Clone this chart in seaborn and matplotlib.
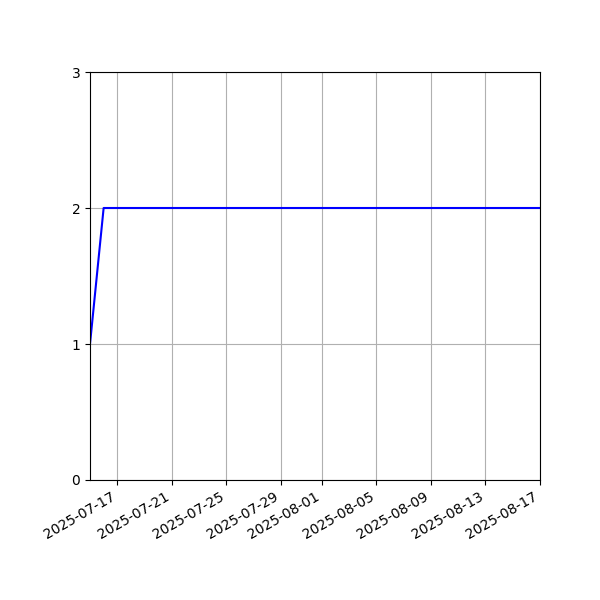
import pandas as pd
import matplotlib
matplotlib.use('Agg')
import matplotlib.pyplot as plt
import seaborn as sns

# daily counts, one point per day
dates = pd.date_range('2025-07-15', '2025-08-17', freq='D')
values = [1] + [2] * (len(dates) - 1)

df = pd.DataFrame({'date': dates, 'value': values})

fig, ax = plt.subplots(figsize=(6, 6), dpi=100)
sns.lineplot(data=df, x='date', y='value', color='blue', ax=ax)

ax.set_xlim(dates[0], dates[-1])
ax.set_ylim(0, 3)
ax.set_yticks([0, 1, 2, 3])
ax.set_xlabel('')
ax.set_ylabel('')
ax.grid(True)
fig.autofmt_xdate()
fig.subplots_adjust(left=0.15, right=0.9, top=0.88, bottom=0.2)

plt.savefig('out.png', dpi=100)
